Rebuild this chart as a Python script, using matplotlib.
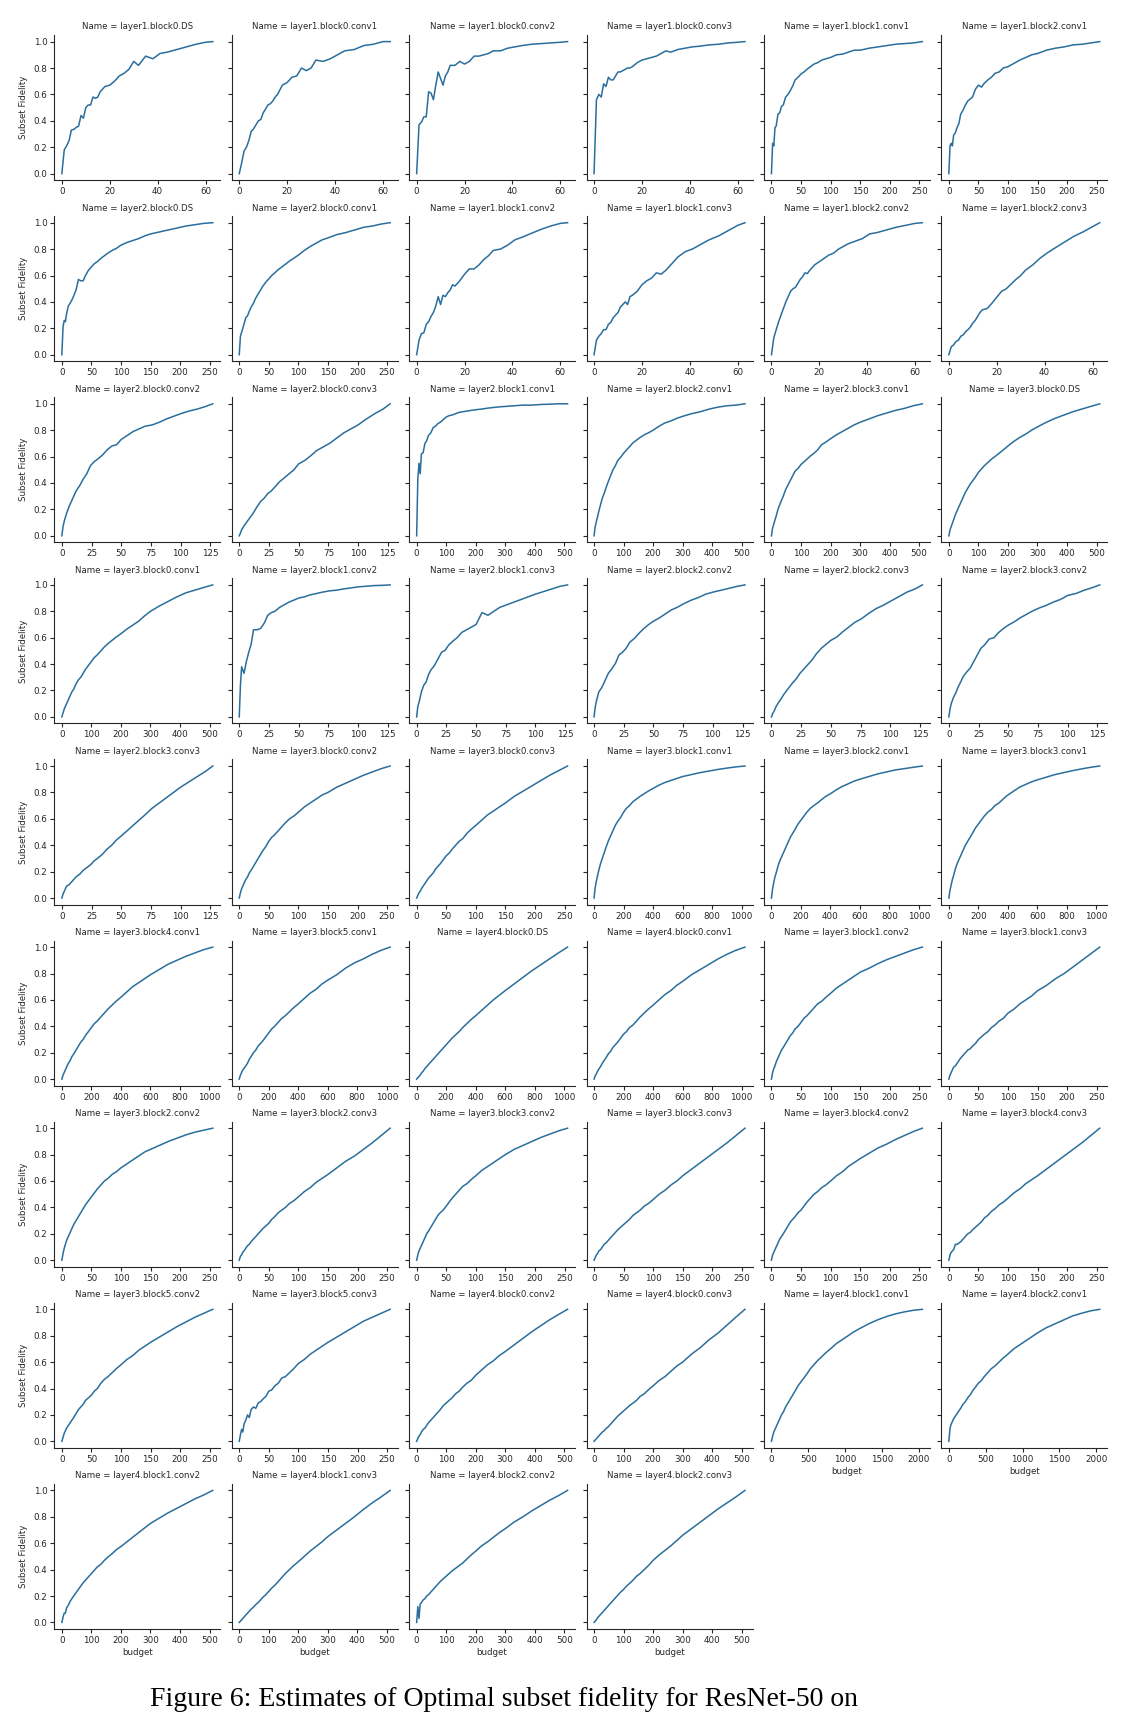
import matplotlib
matplotlib.use("Agg")
import matplotlib.pyplot as plt
from matplotlib.ticker import MultipleLocator

# ---------------- budget grids (x values read at these budgets) ----------------
BUDGET_64 = [0, 1, 2, 3, 4, 5, 6, 7, 8, 9, 10, 11, 12, 13, 14, 15, 16, 18, 20, 22, 24, 26, 28, 30, 32,
             35, 38, 41, 44, 48, 52, 56, 60, 63]
BUDGET_128 = [0, 1, 2, 4, 6, 8, 10, 12, 15, 18, 21, 24, 27, 30, 34, 38, 42, 46, 50, 55, 60, 65, 70,
              76, 82, 88, 94, 100, 107, 114, 121, 127]
BUDGET_256 = [0, 2, 4, 6, 8, 11, 14, 17, 20, 24, 28, 32, 36, 40, 45, 50, 55, 60, 66, 72, 78, 85, 92,
              100, 110, 120, 130, 140, 150, 165, 180, 195, 210, 225, 240, 255]
BUDGET_512 = [0, 4, 8, 12, 16, 22, 28, 34, 40, 48, 56, 64, 72, 80, 90, 100, 110, 120, 132, 144, 156,
              170, 184, 200, 220, 240, 260, 280, 300, 330, 360, 390, 420, 450, 480, 511]
BUDGET_1024 = [0, 8, 16, 24, 32, 44, 56, 68, 80, 96, 112, 128, 144, 160, 180, 200, 220, 240, 264, 288,
               312, 340, 368, 400, 440, 480, 520, 560, 600, 660, 720, 780, 840, 900, 960, 1023]
BUDGET_2048 = [0, 16, 32, 48, 64, 88, 112, 136, 160, 192, 224, 256, 288, 320, 360, 400, 440, 480, 528,
               576, 624, 680, 736, 800, 880, 960, 1040, 1120, 1200, 1320, 1440, 1560, 1680, 1800,
               1920, 2047]

# x tick spacing for each budget range
XTICK_STEP_64, XTICK_STEP_128, XTICK_STEP_256 = 20, 25, 50
XTICK_STEP_512, XTICK_STEP_1024, XTICK_STEP_2048 = 100, 200, 500

# ---------------- subset fidelity values ----------------
L1_B0_DS = [0, 0.18, 0.21, 0.25, 0.33, 0.335, 0.35, 0.36, 0.44, 0.42, 0.50, 0.52, 0.52, 0.58, 0.57, 0.58, 0.62,
            0.66, 0.67, 0.70, 0.74, 0.76, 0.79, 0.85, 0.82, 0.89, 0.87, 0.91, 0.92, 0.94, 0.96, 0.98, 0.995, 1.0]
L1_B0_C1 = [0, 0.08, 0.17, 0.20, 0.25, 0.32, 0.34, 0.37, 0.40, 0.41, 0.46, 0.49, 0.52, 0.53, 0.55, 0.58, 0.60,
            0.67, 0.69, 0.73, 0.74, 0.80, 0.78, 0.80, 0.86, 0.85, 0.87, 0.90, 0.93, 0.94, 0.97, 0.98, 1.0, 1.0]
L1_B0_C2 = [0, 0.37, 0.39, 0.43, 0.43, 0.62, 0.61, 0.56, 0.67, 0.77, 0.72, 0.67, 0.74, 0.77, 0.82, 0.82, 0.82,
            0.85, 0.83, 0.85, 0.89, 0.89, 0.90, 0.91, 0.93, 0.93, 0.95, 0.96, 0.97, 0.98, 0.985, 0.99, 0.995, 1.0]
L1_B0_C3 = [0, 0.56, 0.60, 0.58, 0.68, 0.66, 0.73, 0.71, 0.71, 0.74, 0.77, 0.77, 0.78, 0.79, 0.80, 0.80, 0.81,
            0.84, 0.86, 0.87, 0.88, 0.89, 0.91, 0.93, 0.92, 0.94, 0.95, 0.96, 0.965, 0.975, 0.98, 0.99, 0.995, 1.0]
L1_B1_C1 = [0, 0.23, 0.21, 0.35, 0.36, 0.45, 0.46, 0.51, 0.52, 0.58, 0.60, 0.63, 0.665, 0.71, 0.73, 0.755, 0.77,
            0.79, 0.81, 0.83, 0.84, 0.86, 0.87, 0.88, 0.90, 0.905, 0.92, 0.935, 0.935, 0.95, 0.96, 0.97, 0.98,
            0.985, 0.99, 1.0]
L1_B2_C1 = [0, 0.21, 0.23, 0.21, 0.29, 0.31, 0.35, 0.38, 0.45, 0.48, 0.52, 0.55, 0.565, 0.58, 0.64, 0.67, 0.655,
            0.685, 0.71, 0.73, 0.76, 0.77, 0.80, 0.81, 0.835, 0.86, 0.88, 0.90, 0.91, 0.935, 0.95, 0.96, 0.975,
            0.98, 0.99, 1.0]
L2_B0_DS = [0, 0.21, 0.26, 0.25, 0.31, 0.37, 0.39, 0.415, 0.445, 0.49, 0.57, 0.56, 0.56, 0.60, 0.64, 0.665, 0.69,
            0.705, 0.73, 0.75, 0.77, 0.79, 0.805, 0.83, 0.85, 0.865, 0.88, 0.90, 0.915, 0.93, 0.945, 0.96, 0.975,
            0.985, 0.995, 1.0]
L2_B0_C1 = [0, 0.14, 0.17, 0.20, 0.23, 0.28, 0.295, 0.33, 0.36, 0.39, 0.43, 0.46, 0.49, 0.52, 0.55, 0.575, 0.60,
            0.62, 0.645, 0.665, 0.685, 0.71, 0.73, 0.755, 0.79, 0.82, 0.845, 0.87, 0.885, 0.91, 0.925, 0.945,
            0.965, 0.975, 0.99, 1.0]
L1_B1_C2 = [0, 0.11, 0.16, 0.165, 0.23, 0.25, 0.29, 0.32, 0.37, 0.44, 0.38, 0.45, 0.44, 0.47, 0.49, 0.53, 0.52,
            0.56, 0.61, 0.65, 0.65, 0.68, 0.72, 0.75, 0.79, 0.80, 0.83, 0.87, 0.89, 0.92, 0.95, 0.975, 0.995, 1.0]
L1_B1_C3 = [0, 0.11, 0.14, 0.16, 0.19, 0.19, 0.23, 0.245, 0.28, 0.30, 0.32, 0.36, 0.38, 0.40, 0.38, 0.44, 0.45,
            0.48, 0.53, 0.56, 0.58, 0.62, 0.61, 0.64, 0.68, 0.74, 0.78, 0.80, 0.83, 0.87, 0.90, 0.94, 0.98, 1.0]
L1_B2_C2 = [0, 0.13, 0.19, 0.25, 0.30, 0.35, 0.40, 0.44, 0.48, 0.50, 0.51, 0.54, 0.57, 0.59, 0.62, 0.615, 0.64,
            0.68, 0.705, 0.73, 0.755, 0.77, 0.80, 0.82, 0.84, 0.86, 0.88, 0.915, 0.925, 0.945, 0.965, 0.98,
            0.995, 1.0]
L1_B2_C3 = [0, 0.06, 0.075, 0.10, 0.11, 0.14, 0.15, 0.175, 0.19, 0.21, 0.24, 0.26, 0.29, 0.32, 0.34, 0.345, 0.35,
            0.39, 0.435, 0.48, 0.50, 0.535, 0.57, 0.60, 0.64, 0.68, 0.73, 0.77, 0.805, 0.85, 0.895, 0.93, 0.97, 1.0]
L2_B0_C2 = [0, 0.07, 0.11, 0.17, 0.22, 0.26, 0.30, 0.34, 0.38, 0.43, 0.47, 0.53, 0.56, 0.58, 0.61, 0.65, 0.68,
            0.69, 0.73, 0.76, 0.79, 0.81, 0.83, 0.84, 0.86, 0.885, 0.905, 0.925, 0.945, 0.96, 0.98, 1.0]
L2_B0_C3 = [0, 0.02, 0.045, 0.075, 0.10, 0.125, 0.15, 0.175, 0.22, 0.26, 0.285, 0.32, 0.34, 0.37, 0.41, 0.44,
            0.47, 0.50, 0.545, 0.57, 0.605, 0.645, 0.67, 0.70, 0.74, 0.78, 0.81, 0.84, 0.885, 0.925, 0.96, 1.0]
L2_B1_C1 = [0, 0.435, 0.55, 0.47, 0.62, 0.63, 0.70, 0.72, 0.76, 0.78, 0.82, 0.83, 0.85, 0.86, 0.88, 0.90, 0.91,
            0.915, 0.925, 0.935, 0.94, 0.945, 0.95, 0.955, 0.96, 0.967, 0.972, 0.977, 0.98, 0.985, 0.99, 0.99,
            0.995, 0.997, 1.0, 1.0]
L2_B2_C1 = [0, 0.07, 0.11, 0.145, 0.185, 0.235, 0.285, 0.32, 0.36, 0.41, 0.455, 0.50, 0.53, 0.57, 0.595, 0.625,
            0.65, 0.675, 0.705, 0.725, 0.745, 0.765, 0.78, 0.80, 0.83, 0.855, 0.87, 0.89, 0.905, 0.925, 0.94,
            0.96, 0.975, 0.985, 0.99, 1.0]
L2_B3_C1 = [0, 0.06, 0.09, 0.12, 0.15, 0.20, 0.235, 0.27, 0.30, 0.35, 0.385, 0.42, 0.455, 0.49, 0.51, 0.54, 0.56,
            0.58, 0.605, 0.625, 0.65, 0.69, 0.71, 0.735, 0.765, 0.79, 0.815, 0.84, 0.86, 0.885, 0.91, 0.93,
            0.95, 0.965, 0.985, 1.0]
L3_B0_DS = [0, 0.045, 0.07, 0.095, 0.12, 0.16, 0.19, 0.22, 0.25, 0.29, 0.33, 0.36, 0.39, 0.415, 0.445, 0.48,
            0.505, 0.53, 0.555, 0.58, 0.60, 0.625, 0.65, 0.68, 0.715, 0.745, 0.77, 0.80, 0.825, 0.86, 0.89,
            0.915, 0.94, 0.96, 0.98, 1.0]
L3_B0_C1 = [0, 0.03, 0.06, 0.08, 0.10, 0.13, 0.16, 0.19, 0.21, 0.25, 0.28, 0.30, 0.33, 0.36, 0.39, 0.42, 0.45,
            0.47, 0.50, 0.53, 0.555, 0.58, 0.605, 0.63, 0.665, 0.695, 0.725, 0.765, 0.80, 0.84, 0.875, 0.91,
            0.94, 0.96, 0.98, 1.0]
L2_B1_C2 = [0, 0.24, 0.38, 0.33, 0.42, 0.49, 0.55, 0.66, 0.66, 0.67, 0.71, 0.77, 0.79, 0.80, 0.83, 0.85, 0.87,
            0.885, 0.90, 0.91, 0.925, 0.935, 0.945, 0.955, 0.96, 0.97, 0.977, 0.985, 0.99, 0.995, 0.997, 1.0]
L2_B1_C3 = [0, 0.08, 0.11, 0.19, 0.24, 0.265, 0.32, 0.355, 0.39, 0.44, 0.49, 0.505, 0.545, 0.57, 0.60, 0.64,
            0.66, 0.68, 0.70, 0.79, 0.77, 0.80, 0.83, 0.85, 0.87, 0.89, 0.91, 0.93, 0.95, 0.97, 0.99, 1.0]
L2_B2_C2 = [0, 0.075, 0.12, 0.19, 0.215, 0.25, 0.29, 0.33, 0.365, 0.405, 0.47, 0.49, 0.52, 0.565, 0.595, 0.635,
            0.67, 0.70, 0.725, 0.75, 0.78, 0.81, 0.83, 0.86, 0.885, 0.905, 0.93, 0.945, 0.96, 0.975, 0.99, 1.0]
L2_B2_C3 = [0, 0.025, 0.04, 0.08, 0.11, 0.135, 0.165, 0.19, 0.225, 0.26, 0.29, 0.33, 0.36, 0.39, 0.43, 0.48,
            0.52, 0.55, 0.58, 0.605, 0.645, 0.68, 0.715, 0.745, 0.785, 0.82, 0.845, 0.875, 0.91, 0.945, 0.97, 1.0]
L2_B3_C2 = [0, 0.06, 0.10, 0.15, 0.185, 0.23, 0.265, 0.305, 0.34, 0.37, 0.42, 0.47, 0.52, 0.545, 0.59, 0.60,
            0.64, 0.67, 0.695, 0.72, 0.75, 0.775, 0.80, 0.825, 0.845, 0.87, 0.89, 0.92, 0.935, 0.96, 0.98, 1.0]
L2_B3_C3 = [0, 0.03, 0.05, 0.09, 0.10, 0.12, 0.14, 0.16, 0.18, 0.21, 0.23, 0.25, 0.28, 0.30, 0.33, 0.37, 0.40,
            0.44, 0.47, 0.51, 0.55, 0.59, 0.63, 0.68, 0.72, 0.76, 0.80, 0.84, 0.88, 0.92, 0.96, 1.0]
L3_B0_C2 = [0, 0.04, 0.07, 0.09, 0.11, 0.14, 0.16, 0.19, 0.21, 0.24, 0.27, 0.30, 0.33, 0.36, 0.39, 0.43, 0.46,
            0.48, 0.51, 0.54, 0.57, 0.60, 0.62, 0.65, 0.69, 0.72, 0.75, 0.78, 0.80, 0.84, 0.87, 0.90, 0.93,
            0.955, 0.98, 1.0]
L3_B0_C3 = [0, 0.02, 0.04, 0.05, 0.07, 0.09, 0.11, 0.13, 0.15, 0.17, 0.19, 0.22, 0.24, 0.26, 0.29, 0.32, 0.34,
            0.37, 0.40, 0.43, 0.45, 0.49, 0.52, 0.55, 0.59, 0.63, 0.66, 0.69, 0.72, 0.77, 0.81, 0.85, 0.89,
            0.93, 0.965, 1.0]
L3_B1_C1 = [0, 0.08, 0.13, 0.17, 0.21, 0.26, 0.30, 0.34, 0.38, 0.43, 0.47, 0.51, 0.55, 0.58, 0.61, 0.65, 0.68,
            0.70, 0.73, 0.75, 0.77, 0.79, 0.81, 0.83, 0.855, 0.875, 0.89, 0.905, 0.92, 0.935, 0.95, 0.962,
            0.974, 0.984, 0.993, 1.0]
L3_B2_C1 = [0, 0.07, 0.12, 0.16, 0.19, 0.24, 0.28, 0.31, 0.34, 0.38, 0.42, 0.46, 0.49, 0.52, 0.56, 0.59, 0.62,
            0.65, 0.68, 0.70, 0.72, 0.745, 0.77, 0.79, 0.82, 0.845, 0.865, 0.885, 0.90, 0.92, 0.94, 0.955,
            0.97, 0.98, 0.99, 1.0]
L3_B3_C1 = [0, 0.06, 0.10, 0.14, 0.17, 0.22, 0.26, 0.29, 0.32, 0.36, 0.40, 0.43, 0.46, 0.49, 0.53, 0.56, 0.59,
            0.62, 0.65, 0.67, 0.70, 0.72, 0.75, 0.78, 0.81, 0.84, 0.86, 0.88, 0.895, 0.915, 0.935, 0.95,
            0.965, 0.978, 0.99, 1.0]
L3_B4_C1 = [0, 0.03, 0.05, 0.07, 0.09, 0.12, 0.14, 0.17, 0.19, 0.22, 0.25, 0.28, 0.30, 0.33, 0.36, 0.39, 0.42,
            0.44, 0.47, 0.50, 0.53, 0.56, 0.59, 0.62, 0.66, 0.70, 0.73, 0.76, 0.79, 0.83, 0.87, 0.90, 0.93,
            0.955, 0.98, 1.0]
L3_B5_C1 = [0, 0.03, 0.05, 0.07, 0.08, 0.10, 0.12, 0.15, 0.17, 0.20, 0.22, 0.25, 0.27, 0.29, 0.32, 0.35, 0.38,
            0.40, 0.43, 0.46, 0.48, 0.51, 0.54, 0.57, 0.61, 0.65, 0.68, 0.72, 0.75, 0.79, 0.84, 0.88, 0.91,
            0.945, 0.975, 1.0]
L4_B0_DS = [0, 0.01, 0.02, 0.03, 0.045, 0.06, 0.08, 0.095, 0.11, 0.13, 0.15, 0.17, 0.19, 0.21, 0.235, 0.26,
            0.285, 0.31, 0.335, 0.36, 0.39, 0.42, 0.45, 0.48, 0.52, 0.56, 0.60, 0.635, 0.67, 0.72, 0.77, 0.82,
            0.865, 0.91, 0.955, 1.0]
L4_B0_C1 = [0, 0.025, 0.04, 0.06, 0.075, 0.095, 0.12, 0.14, 0.16, 0.19, 0.21, 0.24, 0.26, 0.28, 0.31, 0.34,
            0.36, 0.39, 0.41, 0.44, 0.47, 0.50, 0.53, 0.56, 0.60, 0.64, 0.67, 0.71, 0.74, 0.79, 0.83, 0.87,
            0.91, 0.945, 0.975, 1.0]
L3_B1_C2 = [0, 0.05, 0.08, 0.10, 0.13, 0.16, 0.19, 0.22, 0.24, 0.27, 0.30, 0.33, 0.35, 0.38, 0.40, 0.43, 0.46,
            0.48, 0.51, 0.54, 0.57, 0.59, 0.62, 0.65, 0.69, 0.72, 0.75, 0.78, 0.81, 0.84, 0.875, 0.905, 0.93,
            0.955, 0.98, 1.0]
L3_B1_C3 = [0, 0.03, 0.05, 0.07, 0.09, 0.10, 0.12, 0.14, 0.16, 0.18, 0.20, 0.22, 0.23, 0.25, 0.27, 0.30, 0.32,
            0.34, 0.36, 0.39, 0.41, 0.44, 0.46, 0.50, 0.53, 0.57, 0.60, 0.63, 0.67, 0.71, 0.76, 0.80, 0.85,
            0.90, 0.95, 1.0]
L3_B2_C2 = [0, 0.05, 0.09, 0.12, 0.15, 0.18, 0.21, 0.24, 0.27, 0.30, 0.33, 0.36, 0.39, 0.42, 0.45, 0.48, 0.51,
            0.54, 0.57, 0.60, 0.62, 0.65, 0.67, 0.70, 0.73, 0.76, 0.79, 0.82, 0.84, 0.87, 0.90, 0.925, 0.95,
            0.97, 0.985, 1.0]
L3_B2_C3 = [0, 0.03, 0.04, 0.06, 0.07, 0.09, 0.11, 0.12, 0.14, 0.16, 0.18, 0.20, 0.22, 0.24, 0.26, 0.28, 0.31,
            0.33, 0.36, 0.38, 0.40, 0.43, 0.45, 0.48, 0.52, 0.55, 0.59, 0.62, 0.65, 0.70, 0.75, 0.79, 0.84,
            0.89, 0.945, 1.0]
L3_B3_C2 = [0, 0.04, 0.07, 0.09, 0.11, 0.14, 0.17, 0.20, 0.22, 0.25, 0.28, 0.31, 0.34, 0.36, 0.38, 0.41, 0.44,
            0.47, 0.50, 0.53, 0.56, 0.58, 0.61, 0.64, 0.68, 0.71, 0.74, 0.77, 0.80, 0.84, 0.87, 0.90, 0.93,
            0.955, 0.98, 1.0]
L3_B3_C3 = [0, 0.02, 0.04, 0.05, 0.07, 0.08, 0.10, 0.12, 0.13, 0.15, 0.17, 0.19, 0.21, 0.23, 0.25, 0.27, 0.29,
            0.31, 0.34, 0.36, 0.38, 0.41, 0.43, 0.46, 0.50, 0.53, 0.57, 0.60, 0.64, 0.69, 0.74, 0.79, 0.84,
            0.89, 0.945, 1.0]
L3_B4_C2 = [0, 0.04, 0.06, 0.08, 0.10, 0.13, 0.16, 0.18, 0.20, 0.23, 0.26, 0.29, 0.31, 0.33, 0.36, 0.38, 0.41,
            0.44, 0.47, 0.50, 0.52, 0.55, 0.57, 0.60, 0.64, 0.67, 0.71, 0.74, 0.77, 0.81, 0.85, 0.88, 0.915,
            0.945, 0.975, 1.0]
L3_B4_C3 = [0, 0.04, 0.06, 0.07, 0.08, 0.12, 0.12, 0.13, 0.14, 0.16, 0.18, 0.20, 0.21, 0.23, 0.25, 0.27, 0.29,
            0.32, 0.34, 0.37, 0.39, 0.42, 0.44, 0.47, 0.51, 0.54, 0.58, 0.61, 0.64, 0.69, 0.74, 0.79, 0.84,
            0.89, 0.945, 1.0]
L3_B5_C2 = [0, 0.03, 0.06, 0.08, 0.10, 0.12, 0.14, 0.16, 0.18, 0.21, 0.24, 0.26, 0.28, 0.31, 0.33, 0.35, 0.38,
            0.40, 0.44, 0.47, 0.49, 0.52, 0.55, 0.58, 0.62, 0.65, 0.69, 0.72, 0.75, 0.79, 0.83, 0.87, 0.905,
            0.94, 0.97, 1.0]
L3_B5_C3 = [0, 0.05, 0.09, 0.07, 0.13, 0.16, 0.20, 0.18, 0.24, 0.26, 0.25, 0.29, 0.30, 0.32, 0.34, 0.38, 0.39,
            0.42, 0.44, 0.48, 0.49, 0.52, 0.55, 0.59, 0.62, 0.66, 0.69, 0.72, 0.75, 0.79, 0.83, 0.87, 0.91,
            0.94, 0.97, 1.0]
L4_B0_C2 = [0, 0.02, 0.04, 0.05, 0.07, 0.09, 0.10, 0.12, 0.14, 0.16, 0.18, 0.20, 0.22, 0.24, 0.27, 0.29, 0.31,
            0.33, 0.36, 0.38, 0.41, 0.44, 0.46, 0.50, 0.54, 0.58, 0.61, 0.65, 0.68, 0.73, 0.78, 0.83, 0.875,
            0.92, 0.96, 1.0]
L4_B0_C3 = [0, 0.01, 0.02, 0.03, 0.04, 0.055, 0.07, 0.08, 0.095, 0.11, 0.13, 0.15, 0.17, 0.19, 0.21, 0.23,
            0.25, 0.27, 0.29, 0.31, 0.34, 0.36, 0.39, 0.42, 0.46, 0.49, 0.53, 0.57, 0.60, 0.66, 0.71, 0.77,
            0.82, 0.88, 0.94, 1.0]
L4_B1_C1 = [0, 0.04, 0.07, 0.09, 0.11, 0.14, 0.17, 0.20, 0.22, 0.26, 0.29, 0.32, 0.35, 0.38, 0.42, 0.45, 0.48,
            0.51, 0.55, 0.58, 0.61, 0.64, 0.67, 0.70, 0.74, 0.77, 0.80, 0.83, 0.855, 0.89, 0.92, 0.945, 0.965,
            0.98, 0.992, 1.0]
L4_B2_C1 = [0, 0.10, 0.13, 0.15, 0.17, 0.19, 0.21, 0.23, 0.25, 0.28, 0.30, 0.33, 0.35, 0.38, 0.41, 0.44, 0.46,
            0.49, 0.52, 0.55, 0.57, 0.60, 0.63, 0.66, 0.70, 0.73, 0.76, 0.79, 0.82, 0.86, 0.89, 0.92, 0.95,
            0.97, 0.988, 1.0]
L4_B1_C2 = [0, 0.04, 0.07, 0.07, 0.11, 0.13, 0.16, 0.18, 0.20, 0.225, 0.25, 0.275, 0.30, 0.32, 0.345, 0.37,
            0.395, 0.42, 0.44, 0.47, 0.495, 0.52, 0.55, 0.575, 0.61, 0.645, 0.68, 0.715, 0.75, 0.79, 0.83,
            0.865, 0.90, 0.935, 0.965, 1.0]
L4_B1_C3 = [0, 0.01, 0.02, 0.03, 0.04, 0.055, 0.07, 0.085, 0.10, 0.115, 0.135, 0.15, 0.17, 0.19, 0.21, 0.235,
            0.26, 0.28, 0.31, 0.34, 0.37, 0.40, 0.43, 0.46, 0.50, 0.54, 0.575, 0.61, 0.65, 0.70, 0.75, 0.80,
            0.855, 0.905, 0.95, 1.0]
L4_B2_C2 = [0, 0.12, 0.03, 0.14, 0.15, 0.17, 0.18, 0.20, 0.21, 0.23, 0.25, 0.27, 0.29, 0.31, 0.33, 0.35, 0.37,
            0.39, 0.41, 0.43, 0.45, 0.48, 0.51, 0.54, 0.58, 0.61, 0.645, 0.68, 0.71, 0.76, 0.80, 0.845, 0.885,
            0.925, 0.96, 1.0]
L4_B2_C3 = [0, 0.01, 0.02, 0.035, 0.045, 0.06, 0.075, 0.09, 0.105, 0.125, 0.145, 0.165, 0.185, 0.205, 0.23,
            0.25, 0.275, 0.295, 0.32, 0.35, 0.37, 0.40, 0.43, 0.47, 0.51, 0.545, 0.58, 0.62, 0.66, 0.71, 0.76,
            0.81, 0.86, 0.905, 0.95, 1.0]

# panel order (facet order, wrapped into 6 columns)
PANELS = [
    ("layer1.block0.DS", BUDGET_64, L1_B0_DS, XTICK_STEP_64),
    ("layer1.block0.conv1", BUDGET_64, L1_B0_C1, XTICK_STEP_64),
    ("layer1.block0.conv2", BUDGET_64, L1_B0_C2, XTICK_STEP_64),
    ("layer1.block0.conv3", BUDGET_64, L1_B0_C3, XTICK_STEP_64),
    ("layer1.block1.conv1", BUDGET_256, L1_B1_C1, XTICK_STEP_256),
    ("layer1.block2.conv1", BUDGET_256, L1_B2_C1, XTICK_STEP_256),
    ("layer2.block0.DS", BUDGET_256, L2_B0_DS, XTICK_STEP_256),
    ("layer2.block0.conv1", BUDGET_256, L2_B0_C1, XTICK_STEP_256),
    ("layer1.block1.conv2", BUDGET_64, L1_B1_C2, XTICK_STEP_64),
    ("layer1.block1.conv3", BUDGET_64, L1_B1_C3, XTICK_STEP_64),
    ("layer1.block2.conv2", BUDGET_64, L1_B2_C2, XTICK_STEP_64),
    ("layer1.block2.conv3", BUDGET_64, L1_B2_C3, XTICK_STEP_64),
    ("layer2.block0.conv2", BUDGET_128, L2_B0_C2, XTICK_STEP_128),
    ("layer2.block0.conv3", BUDGET_128, L2_B0_C3, XTICK_STEP_128),
    ("layer2.block1.conv1", BUDGET_512, L2_B1_C1, XTICK_STEP_512),
    ("layer2.block2.conv1", BUDGET_512, L2_B2_C1, XTICK_STEP_512),
    ("layer2.block3.conv1", BUDGET_512, L2_B3_C1, XTICK_STEP_512),
    ("layer3.block0.DS", BUDGET_512, L3_B0_DS, XTICK_STEP_512),
    ("layer3.block0.conv1", BUDGET_512, L3_B0_C1, XTICK_STEP_512),
    ("layer2.block1.conv2", BUDGET_128, L2_B1_C2, XTICK_STEP_128),
    ("layer2.block1.conv3", BUDGET_128, L2_B1_C3, XTICK_STEP_128),
    ("layer2.block2.conv2", BUDGET_128, L2_B2_C2, XTICK_STEP_128),
    ("layer2.block2.conv3", BUDGET_128, L2_B2_C3, XTICK_STEP_128),
    ("layer2.block3.conv2", BUDGET_128, L2_B3_C2, XTICK_STEP_128),
    ("layer2.block3.conv3", BUDGET_128, L2_B3_C3, XTICK_STEP_128),
    ("layer3.block0.conv2", BUDGET_256, L3_B0_C2, XTICK_STEP_256),
    ("layer3.block0.conv3", BUDGET_256, L3_B0_C3, XTICK_STEP_256),
    ("layer3.block1.conv1", BUDGET_1024, L3_B1_C1, XTICK_STEP_1024),
    ("layer3.block2.conv1", BUDGET_1024, L3_B2_C1, XTICK_STEP_1024),
    ("layer3.block3.conv1", BUDGET_1024, L3_B3_C1, XTICK_STEP_1024),
    ("layer3.block4.conv1", BUDGET_1024, L3_B4_C1, XTICK_STEP_1024),
    ("layer3.block5.conv1", BUDGET_1024, L3_B5_C1, XTICK_STEP_1024),
    ("layer4.block0.DS", BUDGET_1024, L4_B0_DS, XTICK_STEP_1024),
    ("layer4.block0.conv1", BUDGET_1024, L4_B0_C1, XTICK_STEP_1024),
    ("layer3.block1.conv2", BUDGET_256, L3_B1_C2, XTICK_STEP_256),
    ("layer3.block1.conv3", BUDGET_256, L3_B1_C3, XTICK_STEP_256),
    ("layer3.block2.conv2", BUDGET_256, L3_B2_C2, XTICK_STEP_256),
    ("layer3.block2.conv3", BUDGET_256, L3_B2_C3, XTICK_STEP_256),
    ("layer3.block3.conv2", BUDGET_256, L3_B3_C2, XTICK_STEP_256),
    ("layer3.block3.conv3", BUDGET_256, L3_B3_C3, XTICK_STEP_256),
    ("layer3.block4.conv2", BUDGET_256, L3_B4_C2, XTICK_STEP_256),
    ("layer3.block4.conv3", BUDGET_256, L3_B4_C3, XTICK_STEP_256),
    ("layer3.block5.conv2", BUDGET_256, L3_B5_C2, XTICK_STEP_256),
    ("layer3.block5.conv3", BUDGET_256, L3_B5_C3, XTICK_STEP_256),
    ("layer4.block0.conv2", BUDGET_512, L4_B0_C2, XTICK_STEP_512),
    ("layer4.block0.conv3", BUDGET_512, L4_B0_C3, XTICK_STEP_512),
    ("layer4.block1.conv1", BUDGET_2048, L4_B1_C1, XTICK_STEP_2048),
    ("layer4.block2.conv1", BUDGET_2048, L4_B2_C1, XTICK_STEP_2048),
    ("layer4.block1.conv2", BUDGET_512, L4_B1_C2, XTICK_STEP_512),
    ("layer4.block1.conv3", BUDGET_512, L4_B1_C3, XTICK_STEP_512),
    ("layer4.block2.conv2", BUDGET_512, L4_B2_C2, XTICK_STEP_512),
    ("layer4.block2.conv3", BUDGET_512, L4_B2_C3, XTICK_STEP_512),
]

YTICKS = [0.0, 0.2, 0.4, 0.6, 0.8, 1.0]
CAPTION = "Figure 6: Estimates of Optimal subset fidelity for ResNet-50 on"

# ---------------- figure ----------------
W, H = 1129, 1720
fig = plt.figure(figsize=(W / 100, H / 100), dpi=100)
fig.patch.set_facecolor("white")

NCOL = 6
LEFT0, COL_PITCH, AX_W = 54.3, 177.4, 166.0
TOP0, ROW_PITCH, AX_H = 35.0, 181.1, 145.2
LINE_COLOR = "#2a6e9c"
INK = "#262626"

n = len(PANELS)
for i, (name, budget, fid, step) in enumerate(PANELS):
    r, c = divmod(i, NCOL)
    left = (LEFT0 + c * COL_PITCH) / W
    bottom = 1 - (TOP0 + r * ROW_PITCH + AX_H) / H
    ax = fig.add_axes([left, bottom, AX_W / W, AX_H / H])
    m = min(len(budget), len(fid))
    ax.plot(budget[:m], fid[:m], color=LINE_COLOR, lw=1.1)
    ax.set_ylim(-0.05, 1.05)
    ax.set_yticks(YTICKS)
    ax.xaxis.set_major_locator(MultipleLocator(step))
    ax.margins(x=0.05)
    for s in ("top", "right"):
        ax.spines[s].set_visible(False)
    for s in ("left", "bottom"):
        ax.spines[s].set_color(INK)
        ax.spines[s].set_linewidth(0.8)
    ax.tick_params(length=3, width=0.8, color=INK, labelcolor=INK, labelsize=6.3, pad=2)
    ax.set_title(f"Name = {name}", fontsize=6.2, color=INK, pad=4)
    if c == 0:
        ax.set_ylabel("Subset Fidelity", fontsize=6.2, color=INK, labelpad=4)
    else:
        ax.tick_params(axis="y", labelleft=False)
    # bottom-most panel in each column gets the x label
    if i + NCOL >= n:
        ax.set_xlabel("budget", fontsize=6.2, color=INK, labelpad=2)

fig.text(150 / W, 1 - 1706 / H, CAPTION, family="Liberation Serif", fontsize=20,
         color="black", ha="left", va="baseline")

fig.savefig("out.png", dpi=100, facecolor="white")
